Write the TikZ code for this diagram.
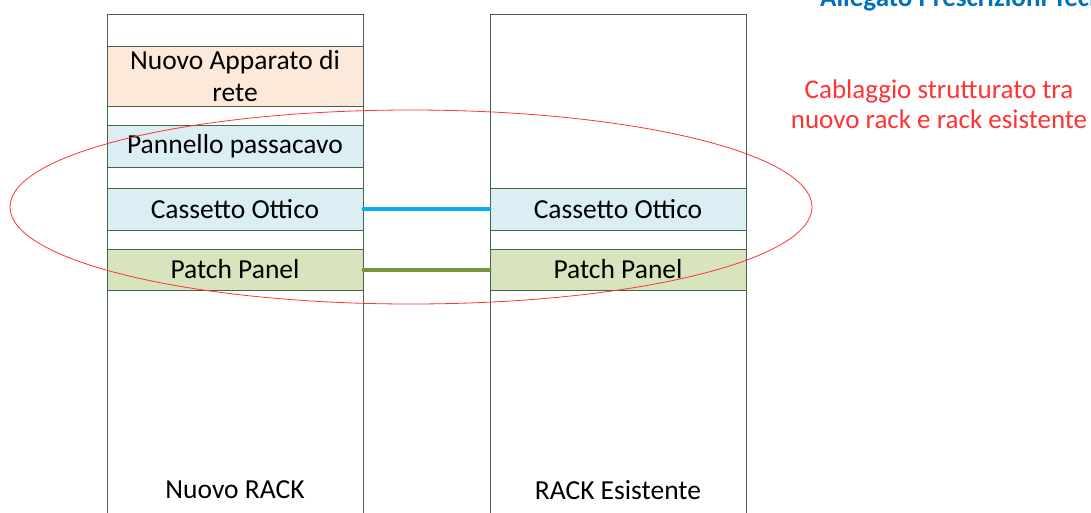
\documentclass[tikz,border=0pt]{standalone}
\usepackage{fontspec}
\setmainfont{Carlito}
\definecolor{rackline}{HTML}{44634C}
\definecolor{peach}{HTML}{FCE9DA}
\definecolor{lblue}{HTML}{DAEEF3}
\definecolor{lgreen}{HTML}{D7E4BD}
\definecolor{cyanline}{HTML}{00B0F0}
\definecolor{oliveline}{HTML}{77933C}
\definecolor{redtxt}{HTML}{FF3333}
\definecolor{titleblue}{HTML}{0070C0}
\tikzset{
  rack/.style={draw=rackline, line width=1pt, minimum width=256pt, minimum height=540pt, inner sep=0pt},
  unit/.style={draw=rackline, line width=1pt, minimum width=256pt, inner sep=0pt, font=\fontsize{27.5}{32}\selectfont, align=center},
  label/.style={font=\fontsize{27.5}{32}\selectfont, inner sep=0pt},
  link/.style={line width=4pt, line cap=round},
}
\begin{document}
\begin{tikzpicture}[x=1pt,y=-1pt]
\useasboundingbox (0,0) rectangle (1091,512);
\clip (0,0) rectangle (1091,512);
\fill[white] (0,0) rectangle (1091,512);
% racks
\node[rack] (rackL) at (235,284) {};
\node[rack] (rackR) at (618,284) {};
% left rack units
\node[unit, fill=peach, minimum height=60pt] (app) at (235,76) {Nuovo Apparato di\\rete};
\node[unit, fill=lblue, minimum height=42pt] (pass) at (235,146) {Pannello passacavo};
\node[unit, fill=lblue, minimum height=42pt] (coL) at (235,209) {Cassetto Ottico};
\node[unit, fill=lgreen, minimum height=41pt] (ppL) at (235,269.5) {Patch Panel};
% right rack units
\node[unit, fill=lblue, minimum height=42pt] (coR) at (618,209) {Cassetto Ottico};
\node[unit, fill=lgreen, minimum height=41pt] (ppR) at (618,269.5) {Patch Panel};
% links
\draw[link, cyanline] (coL.east) -- (coR.west);
\draw[link, oliveline] (ppL.east) -- (ppR.west);
% ellipse
\draw[redtxt, line width=0.8pt] (411,207) ellipse [x radius=401, y radius=97];
% labels
\node[label] (lblL) at (235,490) {Nuovo RACK};
\node[label] (lblR) at (618,490) {RACK Esistente};
\node[label, text=redtxt, align=center, font=\fontsize{27}{30}\selectfont] (note) at (939,104) {Cablaggio strutturato tra\\nuovo rack e rack esistente};
\node[anchor=base west, inner sep=0pt, text=titleblue, font=\fontsize{27}{30}\selectfont\bfseries] (title) at (820,6) {Allegato Prescrizioni Tecniche};
\end{tikzpicture}
\end{document}
